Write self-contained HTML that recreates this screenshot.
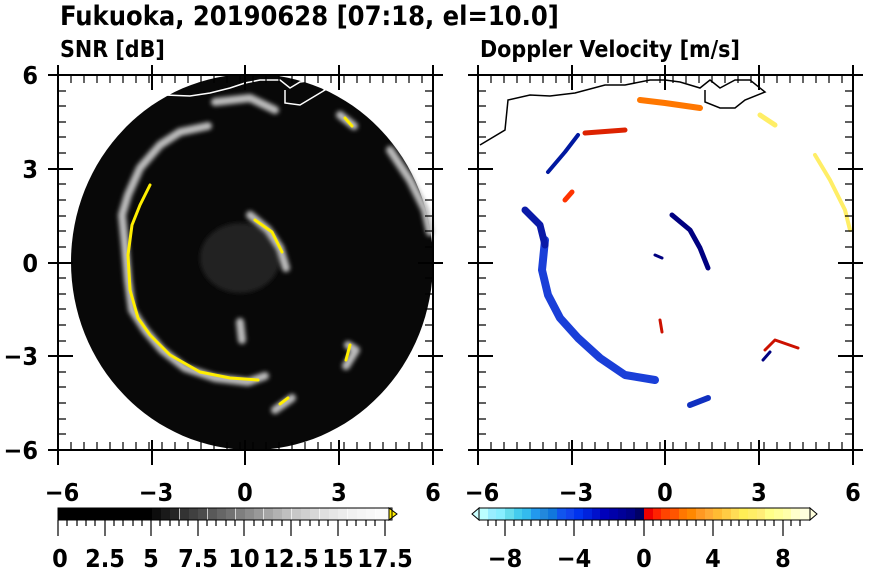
<!DOCTYPE html>
<html><head><meta charset="utf-8"><style>
body{margin:0;background:#fff;}
svg text{font-family:"DejaVu Sans Condensed","DejaVu Sans","Liberation Sans",sans-serif;font-weight:bold;fill:#000;font-stretch:condensed;}
</style></head><body>
<svg width="870" height="570" viewBox="0 0 870 570" xmlns="http://www.w3.org/2000/svg">
<defs>
<filter id="bl"><feGaussianBlur stdDeviation="2"/></filter>
</defs>
<text x="60" y="25" font-size="27">Fukuoka, 20190628 [07:18, el=10.0]</text>
<text x="60" y="57" font-size="23">SNR [dB]</text>
<text x="480" y="57" font-size="23">Doppler Velocity [m/s]</text>

<!-- LEFT PANEL -->
<ellipse cx="252" cy="262" rx="181" ry="188" fill="#080808"/>
<ellipse cx="240" cy="258" rx="40" ry="35" fill="#222" filter="url(#bl)"/>
<g fill="none" stroke-linecap="round" stroke-linejoin="round">
<g stroke="#bbb" stroke-width="8" filter="url(#bl)">
<polyline points="208,126 180,132 160,145 140,168 128,195 122,215 125,245 128,280 132,310 145,330 162,350 185,368 215,378 248,382 265,376"/>
<polyline points="275,410 292,398"/>
<polyline points="348,345 356,350 346,366"/>
<polyline points="340,115 354,126"/>
<polyline points="250,215 268,230 280,248 286,268"/>
<polyline points="390,150 410,180 425,210 430,232"/>
<polyline points="240,322 242,340"/>
<polyline points="215,102 250,98 275,110"/>
</g>
<g stroke="#ffee00" stroke-width="3">
<polyline points="150,185 140,205 132,225 128,255 130,290 138,318 150,335 170,355 200,372 230,378 258,380"/>
<polyline points="255,220 272,232 282,252"/>
<polyline points="280,404 288,398"/>
<polyline points="350,345 346,360"/>
<polyline points="345,118 352,126"/>
</g>
</g>
<polyline fill="none" stroke="#fff" stroke-width="1.5" points="165,95 190,96 210,93 230,88 245,83 260,80 280,80 290,88 300,82 315,80 325,90 300,105 285,103 285,90"/>

<!-- RIGHT PANEL -->
<g fill="none" stroke-linecap="round" stroke-linejoin="round">
<polyline stroke="#1a3fd8" stroke-width="8" points="545,240 542,270 548,295 560,318 578,338 600,358 625,375 655,380"/>
<polyline stroke="#0a1aa8" stroke-width="7" points="525,210 540,225 545,245"/>
<polyline stroke="#000080" stroke-width="5" points="672,215 690,230 700,248 708,268"/>
<polyline stroke="#ff3300" stroke-width="5" points="565,200 572,192"/>
<polyline stroke="#dd2200" stroke-width="5" points="585,133 625,130"/>
<polyline stroke="#0018a0" stroke-width="4" points="578,135 565,152 548,172"/>
<polyline stroke="#ff7700" stroke-width="6" points="640,100 665,103 700,108"/>
<polyline stroke="#ffee66" stroke-width="5" points="760,115 775,125"/>
<polyline stroke="#ffee66" stroke-width="4" points="815,155 830,180 845,210 850,230"/>
<polyline stroke="#1030c0" stroke-width="6" points="690,405 708,398"/>
<polyline stroke="#cc1100" stroke-width="3" points="765,350 775,340 798,348"/>
<polyline stroke="#000080" stroke-width="3" points="763,360 770,352"/>
<polyline stroke="#cc1100" stroke-width="3" points="660,320 662,332"/>
<polyline stroke="#000080" stroke-width="3" points="655,255 662,258"/>
</g>
<polyline fill="none" stroke="#000" stroke-width="1.5" points="480,145 505,130 508,100 530,95 550,96 575,93 605,85 625,85 650,80 665,80 680,82 700,88 710,80 720,88 735,80 750,80 765,92 745,100 735,108 720,108 705,102 705,90"/>

<!-- FRAMES + TICKS -->
<g stroke="#000" stroke-width="2" fill="none">
<rect x="58" y="75" width="375" height="375"/>
<rect x="478" y="75" width="375" height="375"/>
</g>
<g stroke="#000" stroke-width="1.2">
<path d="M58,450v-8M71,450v-8M84,450v-8M97,450v-8M110,450v-8M123,450v-8M136,450v-8M149,450v-8M162,450v-8M175,450v-8M188,450v-8M201,450v-8M214,450v-8M227,450v-8M240,450v-8M253,450v-8M266,450v-8M279,450v-8M292,450v-8M305,450v-8M318,450v-8M331,450v-8M344,450v-8M357,450v-8M370,450v-8M383,450v-8M396,450v-8M409,450v-8M422,450v-8"/>
<path d="M58,75v8M71,75v8M84,75v8M97,75v8M110,75v8M123,75v8M136,75v8M149,75v8M162,75v8M175,75v8M188,75v8M201,75v8M214,75v8M227,75v8M240,75v8M253,75v8M266,75v8M279,75v8M292,75v8M305,75v8M318,75v8M331,75v8M344,75v8M357,75v8M370,75v8M383,75v8M396,75v8M409,75v8M422,75v8"/>
<path d="M478,450v-8M491,450v-8M504,450v-8M517,450v-8M530,450v-8M543,450v-8M556,450v-8M569,450v-8M582,450v-8M595,450v-8M608,450v-8M621,450v-8M634,450v-8M647,450v-8M660,450v-8M673,450v-8M686,450v-8M699,450v-8M712,450v-8M725,450v-8M738,450v-8M751,450v-8M764,450v-8M777,450v-8M790,450v-8M803,450v-8M816,450v-8M829,450v-8M842,450v-8"/>
<path d="M478,75v8M491,75v8M504,75v8M517,75v8M530,75v8M543,75v8M556,75v8M569,75v8M582,75v8M595,75v8M608,75v8M621,75v8M634,75v8M647,75v8M660,75v8M673,75v8M686,75v8M699,75v8M712,75v8M725,75v8M738,75v8M751,75v8M764,75v8M777,75v8M790,75v8M803,75v8M816,75v8M829,75v8M842,75v8"/>
<path d="M58,91h8M58,106h8M58,122h8M58,137h8M58,153h8M58,184h8M58,200h8M58,216h8M58,231h8M58,247h8M58,278h8M58,294h8M58,309h8M58,325h8M58,341h8M58,372h8M58,387h8M58,403h8M58,419h8M58,434h8"/>
<path d="M433,91h-8M433,106h-8M433,122h-8M433,137h-8M433,153h-8M433,184h-8M433,200h-8M433,216h-8M433,231h-8M433,247h-8M433,278h-8M433,294h-8M433,309h-8M433,325h-8M433,341h-8M433,372h-8M433,387h-8M433,403h-8M433,419h-8M433,434h-8"/>
<path d="M478,91h8M478,106h8M478,122h8M478,137h8M478,153h8M478,184h8M478,200h8M478,216h8M478,231h8M478,247h8M478,278h8M478,294h8M478,309h8M478,325h8M478,341h8M478,372h8M478,387h8M478,403h8M478,419h8M478,434h8"/>
<path d="M853,91h-8M853,106h-8M853,122h-8M853,137h-8M853,153h-8M853,184h-8M853,200h-8M853,216h-8M853,231h-8M853,247h-8M853,278h-8M853,294h-8M853,309h-8M853,325h-8M853,341h-8M853,372h-8M853,387h-8M853,403h-8M853,419h-8M853,434h-8"/>
</g>
<g stroke="#000" stroke-width="2">
<path d="M58,465v-25M152,465v-25M245,465v-25M339,465v-25M433,465v-25M58,65v25M152,65v25M245,65v25M339,65v25M433,65v25"/>
<path d="M478,465v-25M572,465v-25M665,465v-25M759,465v-25M853,465v-25M478,65v25M572,65v25M665,65v25M759,65v25M853,65v25"/>
<path d="M48,75h25M48,169h25M48,263h25M48,356h25M48,450h25M443,75h-25M443,169h-25M443,263h-25M443,356h-25M443,450h-25"/>
<path d="M468,75h25M468,169h25M468,263h25M468,356h25M468,450h25M863,75h-25M863,169h-25M863,263h-25M863,356h-25M863,450h-25"/>
</g>
<g font-size="25" text-anchor="end">
<text x="38" y="84">6</text><text x="38" y="178">3</text><text x="38" y="272">0</text><text x="38" y="365">−3</text><text x="38" y="459">−6</text>
</g>
<g font-size="25" text-anchor="middle">
<text x="62" y="501">−6</text><text x="156" y="501">−3</text><text x="245" y="501">0</text><text x="339" y="501">3</text><text x="433" y="501">6</text>
<text x="482" y="501">−6</text><text x="576" y="501">−3</text><text x="665" y="501">0</text><text x="759" y="501">3</text><text x="853" y="501">6</text>
</g>

<!-- LEFT COLORBAR -->
<rect x="58" y="508" width="94" height="12" fill="#000"/>
<rect x="152" y="508" width="9.3" height="12" fill="#0d0d0d"/><rect x="161" y="508" width="9.3" height="12" fill="#1a1a1a"/><rect x="170" y="508" width="9.3" height="12" fill="#262626"/><rect x="180" y="508" width="9.3" height="12" fill="#333"/><rect x="189" y="508" width="9.3" height="12" fill="#404040"/><rect x="198" y="508" width="9.3" height="12" fill="#4c4c4c"/><rect x="208" y="508" width="9.3" height="12" fill="#595959"/><rect x="217" y="508" width="9.3" height="12" fill="#666"/><rect x="226" y="508" width="9.3" height="12" fill="#727272"/><rect x="236" y="508" width="9.3" height="12" fill="#7f7f7f"/><rect x="245" y="508" width="9.3" height="12" fill="#8c8c8c"/><rect x="254" y="508" width="9.3" height="12" fill="#999"/><rect x="264" y="508" width="9.3" height="12" fill="#a5a5a5"/><rect x="273" y="508" width="9.3" height="12" fill="#b2b2b2"/><rect x="282" y="508" width="9.3" height="12" fill="#bfbfbf"/><rect x="292" y="508" width="9.3" height="12" fill="#c8c8c8"/><rect x="301" y="508" width="9.3" height="12" fill="#d0d0d0"/><rect x="310" y="508" width="9.3" height="12" fill="#d8d8d8"/><rect x="320" y="508" width="9.3" height="12" fill="#dfdfdf"/><rect x="329" y="508" width="9.3" height="12" fill="#e6e6e6"/><rect x="338" y="508" width="9.3" height="12" fill="#ececec"/><rect x="348" y="508" width="9.3" height="12" fill="#f1f1f1"/><rect x="357" y="508" width="9.3" height="12" fill="#f5f5f5"/><rect x="366" y="508" width="9.3" height="12" fill="#f8f8f8"/><rect x="376" y="508" width="16" height="12" fill="#fbfbfb"/>
<polygon points="389,508 397,514 389,520" fill="#ffee00" stroke="#000" stroke-width="1"/>
<rect x="58" y="508" width="334" height="12" fill="none" stroke="#000" stroke-width="1"/>
<g stroke="#000" stroke-width="1.2"><path d="M58,520v16M105,520v16M151,520v16M198,520v16M244,520v16M291,520v16M338,520v16M385,520v16"/>
<path d="M67,520v6M77,520v6M86,520v6M95,520v6M114,520v6M123,520v6M133,520v6M142,520v6M160,520v6M170,520v6M179,520v6M188,520v6M207,520v6M216,520v6M226,520v6M235,520v6M254,520v6M263,520v6M272,520v6M282,520v6M300,520v6M310,520v6M319,520v6M328,520v6M347,520v6M356,520v6M366,520v6M375,520v6"/></g>
<g font-size="25" text-anchor="middle">
<text x="60" y="567">0</text><text x="105" y="567">2.5</text><text x="151" y="567">5</text><text x="198" y="567">7.5</text><text x="244" y="567">10</text><text x="291" y="567">12.5</text><text x="338" y="567">15</text><text x="385" y="567">17.5</text>
</g>

<!-- RIGHT COLORBAR -->
<polygon points="479,508 472,514 479,520" fill="#ccffff" stroke="#000" stroke-width="1"/>
<g>
<rect x="479" y="508" width="9" height="12" fill="#bff"/><rect x="488" y="508" width="9" height="12" fill="#9ef"/><rect x="496" y="508" width="9" height="12" fill="#8ef"/><rect x="505" y="508" width="9" height="12" fill="#6de"/><rect x="514" y="508" width="9" height="12" fill="#4ce"/><rect x="522" y="508" width="9" height="12" fill="#3be"/><rect x="531" y="508" width="9" height="12" fill="#29e"/><rect x="540" y="508" width="9" height="12" fill="#28d"/><rect x="548" y="508" width="9" height="12" fill="#17d"/><rect x="557" y="508" width="9" height="12" fill="#15e"/><rect x="566" y="508" width="9" height="12" fill="#14e"/><rect x="574" y="508" width="9" height="12" fill="#03e"/><rect x="583" y="508" width="9" height="12" fill="#02d"/><rect x="592" y="508" width="9" height="12" fill="#01c"/><rect x="600" y="508" width="9" height="12" fill="#00b"/><rect x="609" y="508" width="9" height="12" fill="#00a"/><rect x="618" y="508" width="9" height="12" fill="#009"/><rect x="626" y="508" width="9" height="12" fill="#008"/><rect x="635" y="508" width="9" height="12" fill="#006"/>
<rect x="644" y="508" width="9" height="12" fill="#e00"/><rect x="653" y="508" width="9" height="12" fill="#f20"/><rect x="661" y="508" width="9" height="12" fill="#f40"/><rect x="670" y="508" width="9" height="12" fill="#f50"/><rect x="679" y="508" width="9" height="12" fill="#f70"/><rect x="687" y="508" width="9" height="12" fill="#f80"/><rect x="696" y="508" width="9" height="12" fill="#f92"/><rect x="705" y="508" width="9" height="12" fill="#fa3"/><rect x="713" y="508" width="9" height="12" fill="#fb3"/><rect x="722" y="508" width="9" height="12" fill="#fc4"/><rect x="731" y="508" width="9" height="12" fill="#fd5"/><rect x="739" y="508" width="9" height="12" fill="#fe5"/><rect x="748" y="508" width="9" height="12" fill="#fe6"/><rect x="757" y="508" width="9" height="12" fill="#fe7"/><rect x="765" y="508" width="9" height="12" fill="#ff8"/><rect x="774" y="508" width="9" height="12" fill="#ff9"/><rect x="783" y="508" width="9" height="12" fill="#ffa"/><rect x="791" y="508" width="9" height="12" fill="#ffc"/><rect x="800" y="508" width="10" height="12" fill="#ffd"/>
</g>
<polygon points="810,508 817,514 810,520" fill="#ffffdd" stroke="#000" stroke-width="1"/>
<rect x="479" y="508" width="331" height="12" fill="none" stroke="#000" stroke-width="1"/>
<g stroke="#000" stroke-width="1.2"><path d="M505,520v16M574,520v16M644,520v16M713,520v16M783,520v16"/>
<path d="M488,520v6M496,520v6M514,520v6M522,520v6M531,520v6M540,520v6M548,520v6M557,520v6M566,520v6M583,520v6M592,520v6M600,520v6M609,520v6M618,520v6M626,520v6M635,520v6M653,520v6M661,520v6M670,520v6M679,520v6M687,520v6M696,520v6M705,520v6M722,520v6M731,520v6M739,520v6M748,520v6M757,520v6M765,520v6M774,520v6M791,520v6M800,520v6"/></g>
<g font-size="25" text-anchor="middle">
<text x="505" y="567">−8</text><text x="574" y="567">−4</text><text x="644" y="567">0</text><text x="713" y="567">4</text><text x="783" y="567">8</text>
</g>
</svg>
</body></html>
